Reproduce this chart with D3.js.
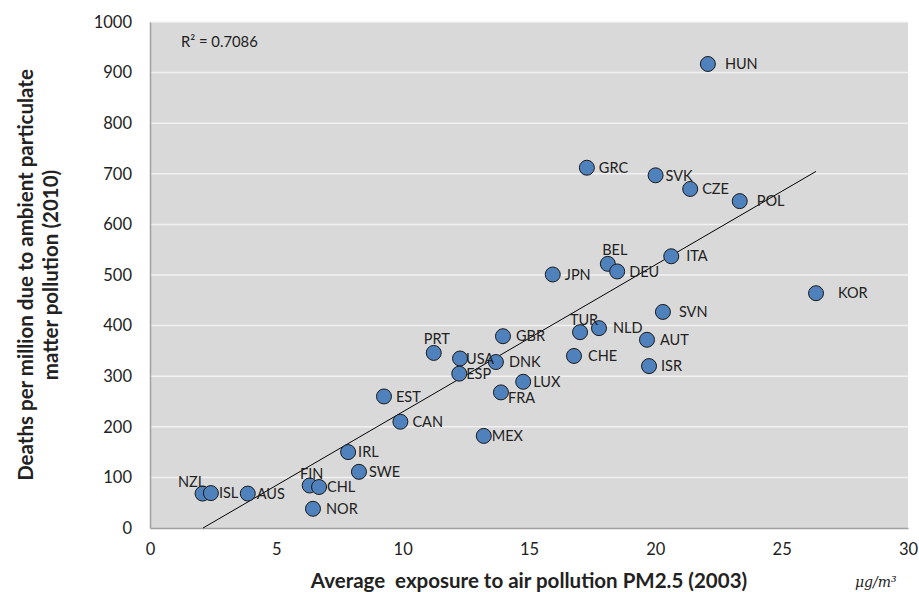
<!DOCTYPE html>
<html>
<head>
<meta charset="utf-8">
<script src="https://cdn.jsdelivr.net/npm/d3@7"></script>
<style>
  body { margin: 0; background: #fff; }
  svg text { font-family: Lato, "Open Sans", sans-serif; fill: #222; }
</style>
</head>
<body>
<div id="chart"></div>
<script>
// OECD countries: PM2.5 exposure (2003) vs deaths per million (2010)
const countries = ["HUN","GRC","SVK","CZE","POL","ITA","BEL","DEU","JPN","KOR","SVN","AUT","ISR","NLD","TUR","CHE","GBR","PRT","USA","DNK","ESP","LUX","FRA","EST","CAN","MEX","IRL","SWE","FIN","CHL","NOR","NZL","ISL","AUS"];
const exposure  = [22.08,17.29,20.01,21.38,23.34,20.63,18.12,18.49,15.94,26.36,20.30,19.67,19.75,17.77,17.02,16.78,13.97,11.23,12.27,13.69,12.24,14.77,13.89,9.26,9.91,13.21,7.84,8.27,6.32,6.69,6.45,2.08,2.41,3.87];
const deaths    = [917,712,697,670,646,537,522,507,501,464,427,372,320,395,387,340,379,346,335,328,305,289,268,260,210,182,150,111,84,81,38,68,69,68];
const xTicks = [0,5,10,15,20,25,30];
const yTicks = [0,100,200,300,400,500,600,700,800,900,1000];
// linear trend as shown on the chart
const trendSlope = 29.05, trendIntercept = -61;
const rSquared = "R² = 0.7086";

const data = countries.map((c, i) => ({ code: c, x: exposure[i], y: deaths[i] }));

// label placement (style only)
const labelDx = { HUN:17, KOR:22, POL:17, ITA:15, SVN:16, CHE:14, NLD:14, GBR:13, DNK:13, NOR:13, AUT:13,
  USA:6, ESP:7, FRA:7, MEX:8, ISL:8, AUS:9, CHL:8, LUX:10, SVK:10, IRL:10, SWE:10 };
const labelAbove = { BEL:[7,-14], PRT:[3,-14], TUR:[4,-12], FIN:[2,-12], NZL:[-11,-12] };
const labelDy = { FRA:5 };

const width = 919, height = 592;
const m = { left: 150, right: 11, top: 22, bottom: 64 };

const svg = d3.select("#chart").append("svg")
  .attr("width", width).attr("height", height);

const x = d3.scaleLinear().domain([0, 30]).range([m.left, width - m.right]);
const y = d3.scaleLinear().domain([0, 1000]).range([height - m.bottom, m.top]);

// plot background
svg.append("rect")
  .attr("x", x(0)).attr("y", y(1000))
  .attr("width", x(30) - x(0)).attr("height", y(0) - y(1000))
  .attr("fill", "#d9d9d9");

// gridlines
svg.append("g").selectAll("line").data(yTicks.filter(d => d > 0)).join("line")
  .attr("x1", x(0)).attr("x2", x(30))
  .attr("y1", d => y(d)).attr("y2", d => y(d))
  .attr("stroke", "#f2f2f2").attr("stroke-width", 1.5);

// axes
const xAxis = svg.append("g").attr("transform", `translate(0,${y(0)})`)
  .call(d3.axisBottom(x).tickValues(xTicks).tickSize(0).tickPadding(15));
const yAxis = svg.append("g").attr("transform", `translate(${x(0)},0)`)
  .call(d3.axisLeft(y).tickValues(yTicks).tickFormat(d3.format("d")).tickSize(0).tickPadding(18));
[xAxis, yAxis].forEach(a => {
  a.select(".domain").attr("stroke", "#a0a0a0").attr("stroke-width", 1.5);
  a.selectAll("text").style("font-size", "16.5px").attr("fill", "#222")
    .style("font-family", "Lato, sans-serif");
});

// trend line across the data range
const [x0, x1] = d3.extent(data, d => d.x);
const xs = Math.max(x0, -trendIntercept / trendSlope);
svg.append("line")
  .attr("x1", x(xs)).attr("y1", y(trendIntercept + trendSlope * xs))
  .attr("x2", x(x1)).attr("y2", y(trendIntercept + trendSlope * x1))
  .attr("stroke", "#000").attr("stroke-width", 1);

// points
svg.append("g").selectAll("circle").data(data).join("circle")
  .attr("cx", d => x(d.x)).attr("cy", d => y(d.y)).attr("r", 7.5)
  .attr("fill", "#4f81bd").attr("stroke", "#1a1a1a").attr("stroke-width", 1);

// point labels
svg.append("g").selectAll("text").data(data).join("text")
  .attr("x", d => x(d.x) + (labelAbove[d.code] ? labelAbove[d.code][0] : (labelDx[d.code] ?? 12)))
  .attr("y", d => y(d.y) + (labelAbove[d.code] ? labelAbove[d.code][1] : (labelDy[d.code] ?? 0)))
  .attr("dy", "0.36em")
  .attr("text-anchor", d => labelAbove[d.code] ? "middle" : "start")
  .style("font-size", "14.5px")
  .text(d => d.code);

// R² annotation
svg.append("text").attr("x", x(0) + 31).attr("y", y(960)).attr("dy", "0.35em")
  .style("font-size", "14.8px").text(rSquared);

// axis titles
svg.append("text").attr("x", 529).attr("y", 588)
  .attr("text-anchor", "middle").style("font-size", "20.5px").style("font-weight", "bold")
  .style("white-space", "pre")
  .text("Average  exposure to air pollution PM2.5 (2003)");

svg.append("text").attr("x", 855).attr("y", 587)
  .style("font-family", "'DejaVu Serif', serif").style("font-style", "italic")
  .style("font-size", "14px").attr("fill", "#555")
  .text("μg/m³");

const yt = svg.append("text")
  .attr("transform", `translate(33,${(y(0) + y(1000)) / 2}) rotate(-90)`)
  .attr("text-anchor", "middle").style("font-size", "20.5px").style("font-weight", "bold");
yt.append("tspan").attr("x", 0).attr("dy", 0).text("Deaths per million due to ambient particulate");
yt.append("tspan").attr("x", 0).attr("dy", 25).text("matter pollution (2010)");
</script>
</body>
</html>
